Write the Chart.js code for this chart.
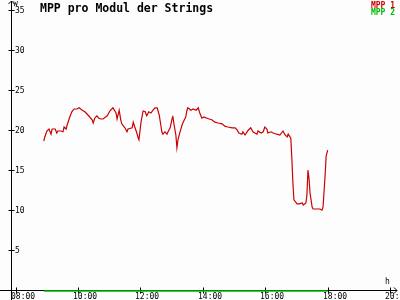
<!DOCTYPE html>
<html>
<head>
<meta charset="utf-8">
<script src="https://cdn.jsdelivr.net/npm/chart.js@4.4.1/dist/chart.umd.min.js"></script>
<style>
  html, body { margin: 0; padding: 0; background: #fdfdfd; }
</style>
</head>
<body>
<canvas id="chart" width="400" height="300"></canvas>
<script>
// MPP 1 readings (time of day, W per module)
const times = [
  '08:54', '08:56', '09:00', '09:04', '09:08', '09:10', '09:16', '09:19', '09:21', '09:27',
  '09:31', '09:33', '09:37', '09:39', '09:44', '09:48', '09:52', '09:58', '10:02', '10:08',
  '10:13', '10:19', '10:27', '10:29', '10:32', '10:36', '10:40', '10:44', '10:48', '10:56',
  '11:01', '11:07', '11:13', '11:15', '11:19', '11:22', '11:24', '11:30', '11:34', '11:36',
  '11:44', '11:46', '11:49', '11:53', '11:55', '11:57', '12:01', '12:05', '12:09', '12:12',
  '12:16', '12:20', '12:24', '12:28', '12:32', '12:36', '12:39', '12:41', '12:43', '12:47',
  '12:51', '12:53', '12:57', '13:01', '13:02', '13:04', '13:08', '13:10', '13:12', '13:16',
  '13:20', '13:22', '13:27', '13:29', '13:31', '13:37', '13:41', '13:47', '13:51', '13:54',
  '13:58', '14:02', '14:08', '14:12', '14:17', '14:23', '14:29', '14:37', '14:42', '14:48',
  '14:56', '15:02', '15:06', '15:09', '15:15', '15:17', '15:21', '15:25', '15:27', '15:32',
  '15:36', '15:40', '15:44', '15:46', '15:52', '15:56', '15:59', '16:03', '16:05', '16:11',
  '16:15', '16:22', '16:28', '16:34', '16:38', '16:42', '16:44', '16:49', '16:51', '16:53',
  '16:55', '17:01', '17:05', '17:11', '17:13', '17:18', '17:20', '17:22', '17:24', '17:26',
  '17:30', '17:32', '17:39', '17:45', '17:49', '17:51', '17:55', '17:57', '18:00'
];
const mpp1 = [
  18.75, 19.25, 20, 20.25, 19.6, 20.25, 20.25, 19.75, 20, 20,
  19.9, 20.5, 20.25, 20.75, 21.75, 22.4, 22.75, 22.75, 22.9, 22.6,
  22.4, 22, 21.4, 21, 21.6, 21.9, 21.6, 21.5, 21.5, 21.9,
  22.5, 22.9, 22.25, 21.5, 22.6, 21.4, 20.9, 20.4, 19.9, 20.25,
  20.4, 21.1, 20.5, 19.75, 19.25, 18.9, 21.1, 22.5, 22.4, 21.9,
  22.4, 22.25, 22.6, 22.9, 22.9, 22, 20.75, 19.9, 19.6, 19.9,
  19.6, 19.9, 20.4, 21.6, 21.9, 21, 19.5, 17.9, 18.9, 19.9,
  20.75, 21.1, 21.75, 22.5, 22.9, 22.6, 22.75, 22.6, 22.9, 22.25,
  21.6, 21.75, 21.6, 21.5, 21.4, 21.1, 21, 20.9, 20.6, 20.5,
  20.4, 20.4, 20.1, 19.75, 19.6, 19.9, 19.5, 19.9, 20.1, 20.4,
  19.9, 19.75, 19.6, 20, 19.75, 19.9, 20.5, 20.25, 19.75, 19.9,
  19.75, 19.6, 19.5, 20, 19.5, 19.25, 19.6, 19.1, 16.6, 13.6,
  11.4, 10.9, 10.9, 11, 10.75, 11, 12, 15.1, 14.1, 12.25,
  10.5, 10.25, 10.25, 10.25, 10.1, 10.5, 14.5, 16.9, 17.6
];
// MPP 2 stays at zero the whole day
const mpp2Times = ['08:54', '18:00'];
const mpp2 = [0, 0];

const xTicks = ['08:00', '10:00', '12:00', '14:00', '16:00', '18:00', '20:00'];
const yTicks = [5, 10, 15, 20, 25, 30, 35];
const seriesNames = ['MPP 1', 'MPP 2'];
const seriesColors = ['#cc0000', '#00bb00'];
const chartTitle = 'MPP pro Modul der Strings';
const yUnit = 'W';
const xUnit = 'h';

const MONO = '"DejaVu Sans Mono", "Liberation Mono", monospace';

const toHours = (t) => {
    const [h, m] = t.split(':');
    return Number(h) + Number(m) / 60;
};

const toPoints = (ts, vs) => ts.map((t, i) => ({ x: toHours(t), y: vs[i] }));

/**
 * Draws the arrow axes, the crossing tick marks and their labels
 * from the chart's own x and y scales.
 */
const axesPlugin = {
    id: 'arrowAxes',
    beforeDatasetsDraw(chart) {
        const { ctx, scales: { x, y } } = chart;
        const ax = Math.round(x.getPixelForValue(x.min)) + 0.5;
        const ay = Math.round(y.getPixelForValue(0)) - 0.5;

        ctx.save();
        ctx.strokeStyle = '#000';
        ctx.fillStyle = '#000';
        ctx.lineWidth = 1;

        ctx.beginPath();
        // y axis with arrow head
        ctx.moveTo(ax, 300);
        ctx.lineTo(ax, 1);
        ctx.moveTo(ax - 3, 4);
        ctx.lineTo(ax, 1);
        ctx.lineTo(ax + 3, 4);
        // x axis with arrow head
        ctx.moveTo(0, ay);
        ctx.lineTo(397, ay);
        ctx.moveTo(394, ay - 3);
        ctx.lineTo(397, ay);
        ctx.lineTo(394, ay + 3);
        ctx.stroke();

        ctx.font = '8px ' + MONO;

        // y ticks cross the axis, labels sit inside the plot
        ctx.textAlign = 'left';
        ctx.textBaseline = 'middle';
        yTicks.forEach((v) => {
            const py = Math.round(y.getPixelForValue(v)) - 0.5;
            ctx.beginPath();
            ctx.moveTo(ax - 3, py);
            ctx.lineTo(ax + 3, py);
            ctx.stroke();
            ctx.fillText(String(v), ax + 3.5, py + 0.5);
        });

        // x ticks
        ctx.textBaseline = 'alphabetic';
        xTicks.forEach((t) => {
            const px = Math.round(x.getPixelForValue(toHours(t))) + 0.5;
            ctx.beginPath();
            ctx.moveTo(px, ay - 3);
            ctx.lineTo(px, ay + 3);
            ctx.stroke();
            ctx.fillText(t, px - 5.5, 299);
        });

        // units
        ctx.font = '7px ' + MONO;
        ctx.fillText(yUnit, ax + 2, 6);
        ctx.font = '8px ' + MONO;
        ctx.fillText(xUnit, 385, 284);
        ctx.restore();
    },
    afterDraw(chart) {
        const { ctx } = chart;
        ctx.save();
        ctx.fillStyle = '#000';
        ctx.font = 'bold 11.5px ' + MONO;
        ctx.textAlign = 'left';
        ctx.textBaseline = 'alphabetic';
        ctx.fillText(chartTitle, 40, 11.5);

        ctx.font = 'bold 8px ' + MONO;
        ctx.textAlign = 'right';
        seriesNames.forEach((name, i) => {
            ctx.fillStyle = seriesColors[i];
            ctx.fillText(name, 395, 8 + i * 7);
        });
        ctx.restore();
    }
};

const chartConfig = {
    type: 'line',
    data: {
        datasets: [
            {
                label: seriesNames[0],
                data: toPoints(times, mpp1),
                borderColor: seriesColors[0],
                borderWidth: 1.2,
                pointRadius: 0,
                tension: 0,
                clip: false
            },
            {
                label: seriesNames[1],
                data: toPoints(mpp2Times, mpp2),
                borderColor: seriesColors[1],
                borderWidth: 1.5,
                pointRadius: 0,
                tension: 0,
                clip: false
            }
        ]
    },
    options: {
        responsive: false,
        animation: false,
        devicePixelRatio: 1,
        layout: {
            padding: { left: 11, top: 3, right: 3, bottom: 9 }
        },
        scales: {
            x: { type: 'linear', display: false, min: 7.85, max: 20.22 },
            y: { display: false, min: 0, max: 36 }
        },
        plugins: {
            legend: { display: false },
            tooltip: { enabled: false }
        }
    },
    plugins: [axesPlugin]
};

new Chart(document.getElementById('chart'), chartConfig);
</script>
</body>
</html>
